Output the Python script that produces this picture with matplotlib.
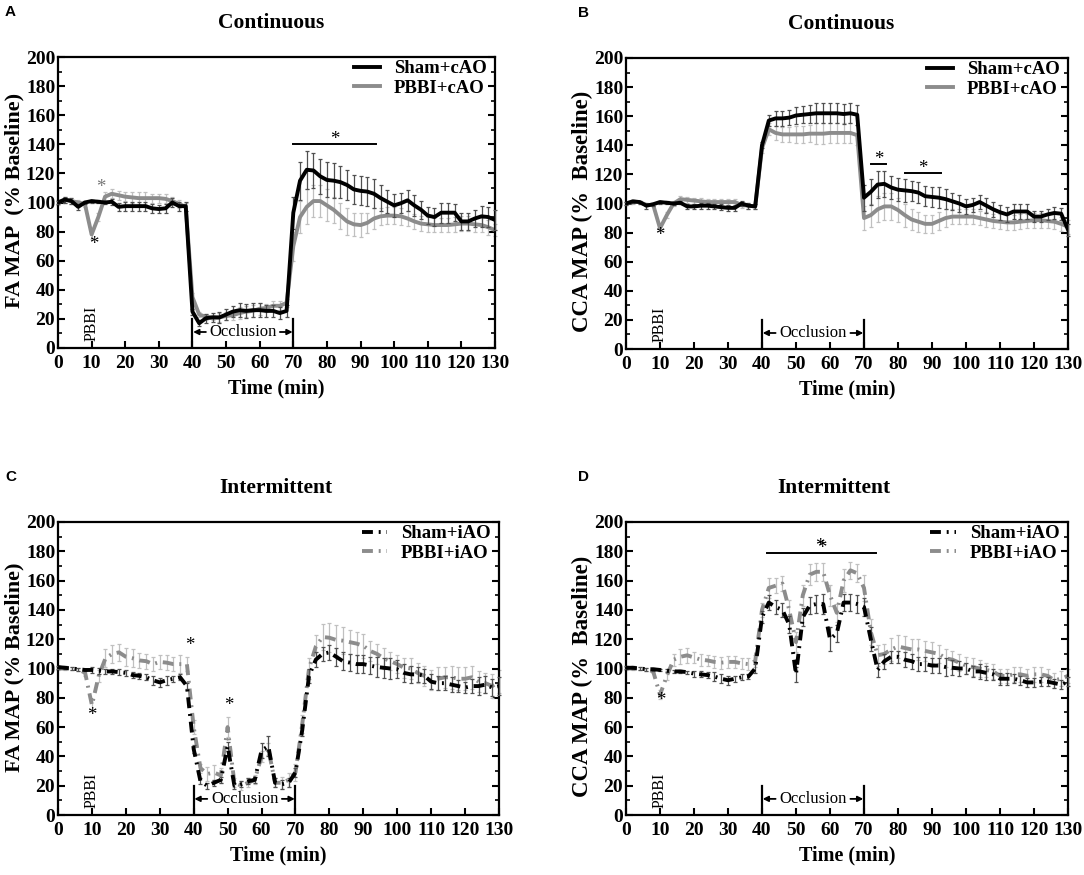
import numpy as np
import matplotlib
matplotlib.use('Agg')
import matplotlib.pyplot as plt
from matplotlib.ticker import MultipleLocator

plt.rcParams['font.family'] = ['Liberation Serif', 'DejaVu Serif']
plt.rcParams['font.weight'] = 'bold'

W, H = 1084, 875
time_min = np.arange(0, 131, 2)

# Panel A
a_sham = [100,102,101,97,100,101,100.5,100,100.5,97,97.5,97.5,97.5,97.5,96,95.5,96,100,97.5,97.5,
          25,17,20.5,21,21,23,25,26,25.5,26,26,25.5,25.5,24,25.5,93,115,122.5,122,118,
          115.5,115,114,112,109,108,107.5,106,103,100.5,98,99.5,101.5,98,95,91,90,93,93,93,
          87,87,89,90.5,90,88]
a_sham_err = [1,2,2,2,1,1,1,1,2,3,3,3,3,3,3,3,3,3,3,3,
              2,2,3,3,4,4,4,5,5,5,5,4,4,4,4,11,13,13,12,12,
              12,12,11,10,10,10,10,10,9,8,8,7,7,7,6,6,6,7,7,6,
              6,6,6,7,7,7]
a_pbbi = [100,102,101,100,99,78,90,104,106,105,104,103.5,103,103,103,103,102.5,101,99,97,
          35,23,21.5,21,21,22,22.5,24,25,25.5,27,27.5,29,29,31,70,90,97,101,101,
          98,95,91,87,85,84.5,86,89,90.5,91,91,90.5,89,87,85.5,85,84.5,84.5,84.5,85,
          85.5,85.5,85,84.5,83,81]
a_pbbi_err = [2,2,2,2,2,3,3,3,3,3,3,4,4,4,3,3,3,3,3,3,
              3,2,2,2,3,3,3,4,4,4,4,3,3,3,3,10,11,12,11,11,
              11,9,9,9,8,8,7,7,6,6,6,6,5,5,5,5,5,5,5,5,
              5,5,5,5,5,4]

# Panel B
b_sham = [100,101.5,101,98.5,99.5,101,100.5,100,100.5,98,98,98.5,98.5,98,97.5,97,97,100,98.5,98,
          140,157,158.5,158.5,159,160.5,161,161.5,162,162,162,162,161.5,162,161,104,108,113,113.5,111,
          109.5,109,108.5,107.5,105,104.5,104,103,101.5,100,98,99,101,98.5,96,94,92.5,94.5,94.5,94.5,
          91,91,92.5,93.5,93,82]
b_sham_err = [1,1,1,2,1,1,1,1,1,2,2,2,2,2,2,2,2,2,2,2,
              2,4,5,5,5,6,6,6,7,7,7,7,7,7,7,9,9,9,9,8,
              8,8,7,7,7,7,7,7,6,6,5,5,5,5,5,5,5,5,5,5,
              4,4,4,4,4,4]
b_pbbi = [100,101,101,99,99,83,92,100,103,102.5,102,101.5,101,101,101,101,101,99,98.5,98,
          138,151,148.5,147.5,147.5,147.5,147.5,148,148,148,148.5,148.5,148.5,148.5,147,90,92,96,98,98,
          95.5,92,89,87.5,86,86,88,90,91,91,91,91,90,89,88,87.5,87,87,87.5,88,
          88.5,88.5,88,87.5,86,84]
b_pbbi_err = [1,1,1,1,1,2,2,2,2,2,2,2,2,2,2,2,2,2,2,2,
              3,4,5,5,5,6,6,6,7,7,7,7,7,7,7,8,8,9,9,9,
              8,8,7,7,6,6,6,6,5,5,5,5,5,5,5,5,5,5,5,5,
              5,5,5,5,5,5]

# Panel C
c_sham = [101,100.5,100,99.5,99,99,98.5,98,98,97.5,97,95.5,95,94,92,90.5,92,93,94,88,
          45,23,20,22,24,47,20,21,23,24,44,47,22,21,22,29,58,95,106,110,
          111,108,105,104,103,103,102,101,100.5,100,99.5,97,96,96,95,91,90,90,89,88,
          87,88,88,89,87,88]
c_sham_err = [1,1,1,1,1,2,2,2,2,2,2,2,2,2,3,3,3,2,2,2,
              3,2,2,2,2,3,2,2,2,2,5,7,3,3,3,3,4,5,5,5,
              5,6,6,6,6,6,6,7,7,7,6,6,6,5,5,5,5,5,5,4,
              4,5,6,6,6,6]
c_pbbi = [100,100,100,99.5,97,75,95,107,110,111,108,107,105.5,105,103,104.5,104,103,103,103,
          60,32,28,29,27,60,22,20,22,24,40,45,22,22,24,29,62,100,115,121.5,
          121,119.5,119,118,117,115.5,112,110,107,105,103,100.5,100,97,95,92,93,94,94,93,
          93,94,91,90,88,91]
c_pbbi_err = [1,1,1,1,2,4,4,6,6,6,6,6,5,5,5,5,5,5,6,5,
              5,3,5,5,5,7,3,3,3,3,4,4,3,4,5,6,6,7,8,9,
              10,10,9,8,8,8,7,7,7,6,6,7,7,7,7,7,8,7,8,8,
              8,8,7,7,8,8]

# Panel D
d_sham = [100.5,100.5,100,99.5,99.5,99,98.5,98,98,97.5,96.5,96,95.5,94.5,93,92,93,94,94.5,100,
          135,145,142,140,130,96,135,143,144,144,120,124,145,145,144,142,120,99,105,108,
          108,106,105,103,103,102,102,101,100.5,100,100,98,98,97,96,93,93,93,92,90.5,
          90.5,91,91,90,89,91]
d_sham_err = [1,1,1,1,1,1,1,1,1,1,2,2,2,3,3,3,2,2,2,3,
              4,5,5,5,6,5,6,6,6,7,8,6,6,6,6,6,8,5,5,4,
              4,5,5,5,5,5,5,6,5,5,4,4,5,5,4,4,4,3,3,3,
              3,3,3,3,3,3]
d_pbbi = [100,100,100,99.5,98,82,95,106,108,109,107.5,106,105.5,104.5,104,104.5,104.5,103.5,103,105,
          140,155,156.5,158,140,118,150,164,166,166,150,138,160,167,165,155,125,109,110,113,
          115,114,113,113,112,111,110,107,106,104,102,101,100,99,98,95,95,96,96,95,
          96,96,95,92,93,95]
d_pbbi_err = [1,1,1,1,1,3,3,4,5,5,4,4,4,4,4,4,4,4,4,4,
              5,7,5,5,7,7,7,7,6,6,7,6,8,6,6,9,9,7,7,8,
              8,8,7,7,7,7,6,6,6,6,6,6,6,5,5,5,5,5,5,5,
              5,5,5,5,5,5]

def add_panel(box, sham, sham_err, pbbi, pbbi_err, names, ylabel, title, letter, dashed,
              letter_x, ylab_pos, ylab_size, title_x):
    x0, x1, ytop, ybot = box
    ax = fig.add_axes([x0 / W, 1 - ybot / H, (x1 - x0) / W, (ybot - ytop) / H])
    handles = []
    for y, err, col, ecol, z in [(pbbi, pbbi_err, '#8c8c8c', '#c0c0c0', 2),
                                 (sham, sham_err, 'black', '#505050', 3)]:
        ax.errorbar(time_min, y, yerr=err, fmt='none', ecolor=ecol, elinewidth=0.9,
                    capsize=1.6, capthick=0.9, zorder=z, clip_on=False)
        ls = (0, (2.8, 1.5, 0.5, 1.5)) if dashed else '-'
        handles.append(ax.plot(time_min, y, color=col, lw=2.8, ls=ls, zorder=z + 0.5)[0])

    ax.set_xlim(0, 130)
    ax.set_ylim(0, 200)
    ax.set_xticks(np.arange(0, 131, 10))
    ax.set_yticks(np.arange(0, 201, 20))
    ax.yaxis.set_minor_locator(MultipleLocator(10))
    ax.tick_params(axis='x', which='major', direction='in', length=5, width=1.5, labelsize=14, pad=5)
    ax.tick_params(axis='y', which='major', direction='in', length=5, width=1.5, labelsize=14,
                   right=True, pad=2)
    ax.tick_params(axis='y', which='minor', direction='in', length=3, width=1.2, right=True)
    for s in ax.spines.values():
        s.set_linewidth(1.6)

    ax.set_xlabel('Time (min)', fontsize=14.5, fontweight='bold', labelpad=5)
    fig.text(ylab_pos[0] / W, 1 - ylab_pos[1] / H, ylabel, rotation=90, ha='center', va='center',
             fontsize=ylab_size, fontweight='bold')
    fig.text(title_x / W, 1 - (ytop - 34) / H, title, ha='center', va='center',
             fontsize=15.5, fontweight='bold')
    fig.text(letter_x / W, 1 - (ytop - 45) / H, letter, family='Liberation Sans', fontweight='bold',
             fontsize=11, ha='left', va='center')

    ax.legend(handles[::-1], names, loc='upper right', frameon=False, fontsize=13.5, handlelength=1.35,
              handletextpad=0.75, labelspacing=0.12, borderaxespad=0, borderpad=0.1,
              bbox_to_anchor=(0.985, 0.995))

    # PBBI marker and occlusion bracket
    ax.text(10, 5, 'PBBI', rotation=90, ha='center', va='bottom', fontsize=11.5, fontweight='normal')
    for xv in [40, 70]:
        ax.plot([xv, xv], [0, 20], color='black', lw=1.6)
    ax.text(55, 11, 'Occlusion', ha='center', va='center', fontsize=12, fontweight='normal')
    for xa, xb in [(44, 40.2), (66, 69.8)]:
        ax.annotate('', xy=(xb, 11), xytext=(xa, 11),
                    arrowprops=dict(arrowstyle='-|>', color='black', lw=1.3, mutation_scale=8,
                                    shrinkA=0, shrinkB=0))
    return ax

def star(ax, x, y, color='black'):
    ax.text(x, y, '*', ha='center', va='center', fontsize=13.5, fontweight='normal', color=color, zorder=6)

def sig_bar(ax, xa, xb, y):
    ax.plot([xa, xb], [y, y], color='black', lw=1.4, zorder=6)
    star(ax, (xa + xb) / 2, y + 3)

fig = plt.figure(figsize=(W / 100, H / 100), dpi=100)

ax_a = add_panel((58, 495, 57, 348), a_sham, a_sham_err, a_pbbi, a_pbbi_err,
                 ['Sham+cAO', 'PBBI+cAO'], 'FA MAP  (% Baseline)', 'Continuous', 'A', False,
                 5, (14, 200), 16, 271)
sig_bar(ax_a, 70, 94.5, 140)
star(ax_a, 10.5, 71)
star(ax_a, 12.8, 110, '#777777')

ax_b = add_panel((626, 1068, 58, 349), b_sham, b_sham_err, b_pbbi, b_pbbi_err,
                 ['Sham+cAO', 'PBBI+cAO'], 'CCA MAP (%  Baseline)', 'Continuous', 'B', False,
                 578, (582, 211), 16.5, 841)
sig_bar(ax_b, 72, 76.5, 127)
sig_bar(ax_b, 82, 92.5, 121)
star(ax_b, 10, 78)

ax_c = add_panel((58, 499, 522, 815), c_sham, c_sham_err, c_pbbi, c_pbbi_err,
                 ['Sham+iAO', 'PBBI+iAO'], 'FA MAP (% Baseline)', 'Intermittent', 'C', True,
                 5, (14, 667), 16, 276)
star(ax_c, 10, 68)
star(ax_c, 38.7, 116)
star(ax_c, 50.3, 75)

ax_d = add_panel((626, 1068, 522, 815), d_sham, d_sham_err, d_pbbi, d_pbbi_err,
                 ['Sham+iAO', 'PBBI+iAO'], 'CCA MAP (%  Baseline)', 'Intermittent', 'D', True,
                 578, (582, 676), 16.5, 834)
sig_bar(ax_d, 41.5, 73.5, 179)
star(ax_d, 57, 183)
star(ax_d, 10.3, 78)

fig.savefig('out.png', dpi=100)
